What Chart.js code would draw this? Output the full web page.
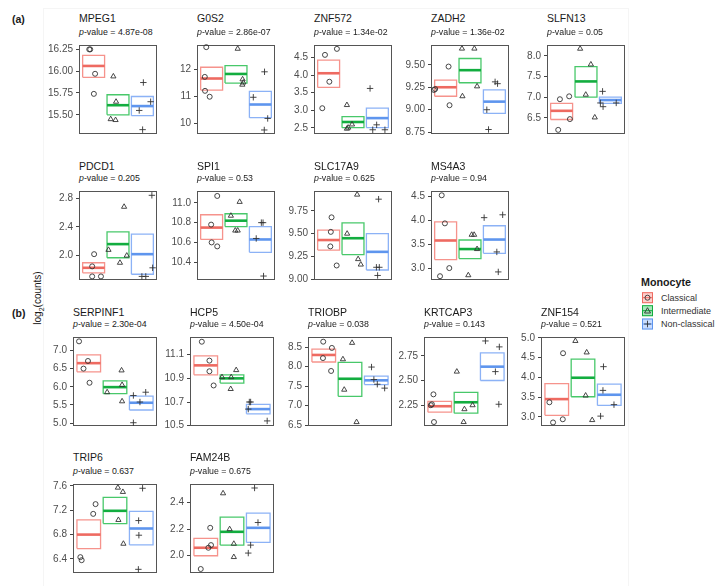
<!DOCTYPE html>
<html>
<head>
<meta charset="utf-8">
<script src="https://cdn.jsdelivr.net/npm/chart.js@4.4.1/dist/chart.umd.min.js"></script>
<style>
  body { margin: 0; background: #fff; width: 723px; height: 586px; position: relative; overflow: hidden;
         font-family: "Liberation Sans", Arial, Helvetica, sans-serif; color: #1a1a1a; }
  .abs { position: absolute; white-space: nowrap; }
  .gene { font-size: 10.5px; line-height: 12px; }
  .pval { font-size: 8.8px; line-height: 10px; }
  .tag { font-size: 10.5px; font-weight: bold; line-height: 12px; }
  .leg { font-size: 9px; line-height: 10px; color: #333; }
  .sep { position: absolute; background: #f5f5f5; }
</style>
</head>
<body>
<div class="sep" style="left:43px;top:8px;width:1px;height:578px"></div>
<div class="sep" style="left:43px;top:8px;width:585px;height:1px"></div>
<div class="sep" style="left:628px;top:8px;width:1px;height:578px"></div>

<div class="abs tag" style="left:12px;top:13px">(a)</div>
<div class="abs tag" style="left:12px;top:307px">(b)</div>
<div class="abs" style="left:38px;top:298px;font-size:10px;transform:translate(-50%,-50%) rotate(-90deg)">log<sub style="font-size:7px">2</sub>(counts)</div>

<div class="abs" style="left:641px;top:276px;font-size:10.7px;font-weight:bold;line-height:12px">Monocyte</div>
<canvas id="legendKeys" class="abs" width="16" height="44" style="left:640px;top:290px"></canvas>
<div class="abs leg" style="left:661px;top:293px">Classical</div>
<div class="abs leg" style="left:661px;top:306px">Intermediate</div>
<div class="abs leg" style="left:661px;top:319px">Non-classical</div>

<script>
// ---------- data ----------
const groups = ['Classical', 'Intermediate', 'Non-classical'];

const genes = ['MPEG1', 'G0S2', 'ZNF572', 'ZADH2', 'SLFN13',
               'PDCD1', 'SPI1', 'SLC17A9', 'MS4A3',
               'SERPINF1', 'HCP5', 'TRIOBP', 'KRTCAP3', 'ZNF154',
               'TRIP6', 'FAM24B'];

const pValues = ['4.87e-08', '2.86e-07', '1.34e-02', '1.36e-02', '0.05',
                 '0.205', '0.53', '0.625', '0.94',
                 '2.30e-04', '4.50e-04', '0.038', '0.143', '0.521',
                 '0.637', '0.675'];

const yTickLabels = [
  ['15.50', '15.75', '16.00', '16.25'], ['10', '11', '12'], ['2.5', '3.0', '3.5', '4.0', '4.5'],
  ['8.75', '9.00', '9.25', '9.50'], ['6.5', '7.0', '7.5', '8.0'],
  ['2.0', '2.4', '2.8'], ['10.4', '10.6', '10.8', '11.0'], ['9.00', '9.25', '9.50', '9.75'],
  ['3.0', '3.5', '4.0', '4.5'],
  ['5.0', '5.5', '6.0', '6.5', '7.0'], ['10.5', '10.7', '10.9', '11.1'], ['6.5', '7.0', '7.5', '8.0', '8.5'],
  ['2.25', '2.50', '2.75'], ['3.0', '3.5', '4.0', '4.5', '5.0'],
  ['6.4', '6.8', '7.2', '7.6'], ['2.0', '2.2', '2.4']
];

const yRanges = [
  [15.28, 16.30], [9.60, 12.92], [2.33, 4.85], [8.73, 9.72], [6.11, 8.26],
  [1.66, 2.90], [10.22, 11.12], [8.99, 9.97], [2.75, 4.62],
  [4.92, 7.37], [10.497, 11.25], [6.48, 8.76], [2.04, 2.94], [2.77, 5.02],
  [6.17, 7.63], [1.87, 2.54]
];

// crossbars per gene: [Classical, Intermediate, Non-classical]
const crossLow = [
  [15.93, 15.50, 15.49], [11.24, 11.50, 10.21], [3.65, 2.51, 2.51], [9.15, 9.30, 8.96], [6.46, 7.00, 6.85],
  [1.76, 1.97, 1.74], [10.63, 10.76, 10.50], [9.32, 9.27, 9.10], [3.18, 3.20, 3.31],
  [6.41, 5.81, 5.36], [10.93, 10.86, 10.60], [8.12, 7.24, 7.54], [2.18, 2.17, 2.50], [3.04, 3.51, 3.29],
  [6.57, 6.98, 6.63], [2.00, 2.08, 2.10]
];
const crossMean = [
  [16.06, 15.61, 15.60], [11.67, 11.84, 10.70], [4.05, 2.67, 2.78], [9.25, 9.44, 9.09], [6.67, 7.38, 6.93],
  [1.83, 2.16, 2.02], [10.75, 10.82, 10.63], [9.43, 9.45, 9.30], [3.58, 3.40, 3.60],
  [6.65, 5.99, 5.56], [11.01, 10.90, 10.64], [8.30, 7.69, 7.65], [2.24, 2.28, 2.64], [3.45, 3.99, 3.56],
  [6.80, 7.19, 6.90], [2.06, 2.18, 2.21]
];
const crossHigh = [
  [16.18, 15.73, 15.71], [12.09, 12.15, 11.19], [4.42, 2.82, 3.06], [9.33, 9.57, 9.22], [6.85, 7.74, 7.00],
  [1.90, 2.33, 2.30], [10.88, 10.89, 10.76], [9.54, 9.62, 9.50], [3.97, 3.59, 3.89],
  [6.88, 6.16, 5.74], [11.09, 10.93, 10.68], [8.45, 8.11, 7.76], [2.29, 2.38, 2.78], [3.84, 4.46, 3.83],
  [7.04, 7.41, 7.18], [2.13, 2.29, 2.32]
];

// samples (x = group position incl. jitter as seen, y = log2 counts)
const classicalX = [
  [0.82, 0.86, 1.06, 1.01], [0.78, 0.72, 0.73, 0.92], [0.85, 1.34, 1.03, 0.74], [0.52, 0.57, 1.12, 1.16], [0.93, 1.31, 1.34, 0.86],
  [1.02, 0.94, 0.94, 1.30], [1.23, 0.98, 1.00, 1.23], [1.12, 1.09, 1.07, 1.33], [0.84, 0.97, 1.15, 0.77],
  [0.63, 0.97, 0.80, 1.03], [0.85, 1.14, 1.14, 1.30], [0.98, 1.31, 0.97, 1.28], [0.76, 0.70, 0.66, 0.78], [1.24, 0.72, 1.23, 0.86],
  [1.26, 1.17, 0.68, 0.73], [1.17, 1.20, 1.10, 0.81]
];
const classicalY = [
  [16.25, 16.25, 15.97, 15.74], [12.84, 11.73, 11.21, 10.99], [4.57, 4.74, 3.81, 3.06], [9.22, 9.23, 9.48, 9.05], [6.95, 7.02, 6.47, 6.21],
  [2.02, 1.85, 1.71, 1.71], [11.07, 10.78, 10.60, 10.56], [9.68, 9.52, 9.36, 9.15], [4.53, 3.94, 3.00, 2.83],
  [7.25, 6.71, 6.50, 6.11], [11.21, 11.05, 10.96, 10.84], [8.64, 8.48, 8.22, 7.89], [2.36, 2.26, 2.25, 2.08], [4.61, 3.37, 2.94, 2.86],
  [7.30, 7.14, 6.43, 6.38], [2.21, 2.08, 2.06, 1.90]
];
const intermediateX = [
  [1.81, 1.92, 1.70, 1.90], [2.07, 2.27, 2.30, 2.26], [1.75, 1.96, 1.75, 1.80], [1.67, 2.18, 1.69, 2.29], [1.76, 2.20, 1.99, 2.36],
  [2.25, 1.61, 2.36, 2.08], [2.15, 1.79, 1.97, 2.07], [2.17, 1.76, 2.21, 2.32], [2.07, 2.17, 2.29, 1.93],
  [2.25, 2.27, 1.70, 2.27], [2.16, 1.97, 1.62, 1.95], [2.08, 1.73, 1.78, 2.25], [1.65, 1.94, 2.25, 1.91], [1.71, 2.14, 2.10, 2.35],
  [2.11, 2.30, 2.13, 2.32], [1.66, 1.91, 2.07, 2.07]
];
const intermediateY = [
  [15.94, 15.65, 15.45, 15.44], [12.78, 11.64, 11.52, 11.44], [3.15, 2.60, 2.48, 2.51], [9.68, 9.68, 9.15, 9.26], [8.17, 7.79, 7.06, 6.51],
  [2.68, 2.08, 2.00, 1.90], [11.01, 10.87, 10.72, 10.72], [9.93, 9.50, 9.22, 9.16], [3.70, 3.70, 3.40, 2.85],
  [6.45, 6.05, 5.85, 5.60], [10.97, 10.91, 10.91, 10.81], [8.61, 8.19, 7.41, 6.58], [2.59, 2.21, 2.25, 2.08], [4.92, 4.63, 3.54, 2.92],
  [7.57, 7.50, 7.04, 6.65], [2.47, 2.20, 2.09, 1.99]
];
const nonClassicalX = [
  [3.04, 3.34, 2.87, 3.01], [3.17, 2.71, 3.30, 3.16], [2.70, 2.97, 2.81, 3.31], [3.03, 3.13, 2.69, 2.76], [2.68, 2.59, 2.70, 3.24],
  [3.39, 3.42, 2.98, 3.14], [3.04, 3.11, 2.83, 3.13], [3.05, 2.96, 3.08, 3.01], [2.58, 3.34, 3.10, 3.16],
  [2.70, 3.17, 2.95, 2.70], [2.66, 2.71, 2.62, 3.34], [2.82, 2.91, 3.04, 3.32], [2.74, 3.27, 3.12, 3.25], [2.78, 2.76, 3.18, 2.67],
  [3.05, 2.90, 2.91, 2.89], [2.86, 2.99, 2.71, 2.62]
];
const nonClassicalY = [
  [15.87, 15.65, 15.55, 15.33], [11.92, 10.97, 10.18, 9.75], [3.62, 2.59, 2.45, 2.45], [9.31, 9.29, 9.00, 8.78], [7.14, 6.86, 6.77, 6.86],
  [2.84, 1.83, 1.71, 1.71], [10.80, 10.80, 10.64, 10.26], [9.88, 9.13, 9.13, 9.04], [4.06, 4.12, 3.34, 2.92],
  [5.76, 5.85, 5.58, 5.01], [10.70, 10.70, 10.64, 10.54], [7.99, 7.67, 7.55, 7.45], [2.90, 2.84, 2.59, 2.26], [4.27, 3.67, 3.31, 3.02],
  [7.56, 7.03, 6.79, 6.23], [2.51, 2.25, 2.08, 2.02]
];

// ---------- layout & style ----------
const panelRow = [0, 0, 0, 0, 0, 1, 1, 1, 1, 2, 2, 2, 2, 2, 3, 3];
const panelCol = [0, 1, 2, 3, 4, 0, 1, 2, 3, 0, 1, 2, 3, 4, 0, 1];
const lefts_a = [79, 197, 314, 431, 547];
const lefts_b = [73, 190, 308, 424, 541];
const rowBoxTop = [41, 187, 333, 480];
const rowTitleY = [18, 166, 312, 457];
const rowPvalY = [32, 178, 324, 471];
const BOX_H = 97;
const AXIS_W = 40;
const PAD = 5;

const boxColors = ['rgba(244,128,120,0.85)', 'rgba(40,190,80,0.85)', 'rgba(120,165,245,0.85)'];
const meanColors = ['#EE6A61', '#12AD3F', '#5E95EE'];
const shapes = ['circle', 'triangle', 'cross'];
const radii = [2.5, 3, 3.2];
const HALF = 0.45;

const frame = {
  id: 'frame',
  beforeDatasetsDraw(chart) {
    const a = chart.chartArea, c = chart.ctx;
    c.save();
    c.strokeStyle = '#555';
    c.lineWidth = 1;
    c.strokeRect(Math.round(a.left) + 0.5, Math.round(a.top) + 0.5,
                 Math.round(a.right - a.left) - 1, Math.round(a.bottom - a.top) - 1);
    c.restore();
  }
};

function addText(cls, html, left, centerY, h) {
  const d = document.createElement('div');
  d.className = 'abs ' + cls;
  d.style.left = left + 'px';
  d.style.top = (centerY - h / 2) + 'px';
  d.innerHTML = html;
  document.body.appendChild(d);
}

function makePanel(i) {
  const row = panelRow[i], col = panelCol[i];
  const left = row < 2 ? lefts_a[col] : lefts_b[col];
  const w = row < 2 ? 78 : 84;
  const top = rowBoxTop[row];

  addText('gene', genes[i], left, rowTitleY[row], 12);
  addText('pval', '<i>p</i>-value = ' + pValues[i], left, rowPvalY[row], 10);

  const cv = document.createElement('canvas');
  const W = AXIS_W + w + PAD, H = BOX_H + 2 * PAD;
  cv.width = W; cv.height = H;
  cv.className = 'abs';
  cv.style.left = (left - AXIS_W) + 'px';
  cv.style.top = (top - PAD) + 'px';
  cv.style.width = W + 'px'; cv.style.height = H + 'px';
  document.body.appendChild(cv);

  const xs = [classicalX[i], intermediateX[i], nonClassicalX[i]];
  const ys = [classicalY[i], intermediateY[i], nonClassicalY[i]];
  const datasets = [];

  for (let g = 0; g < 3; g++) {
    datasets.push({
      data: xs[g].map((x, k) => ({ x: x, y: ys[g][k] })),
      pointStyle: shapes[g], pointRadius: radii[g], pointHoverRadius: radii[g],
      pointBorderColor: '#333', pointBackgroundColor: 'rgba(0,0,0,0)', pointBorderWidth: 0.9,
      showLine: false, clip: false, order: 0
    });
  }
  for (let g = 0; g < 3; g++) {
    const c = g + 1;
    datasets.push({
      data: [{ x: c - HALF, y: crossMean[i][g] }, { x: c + HALF, y: crossMean[i][g] }],
      showLine: true, borderColor: meanColors[g], borderWidth: 2.6,
      pointRadius: 0, pointHoverRadius: 0, clip: false, order: 1
    });
    const lo = crossLow[i][g], hi = crossHigh[i][g];
    datasets.push({
      data: [{ x: c - HALF, y: lo }, { x: c + HALF, y: lo }, { x: c + HALF, y: hi },
             { x: c - HALF, y: hi }, { x: c - HALF, y: lo }],
      showLine: true, borderColor: boxColors[g], borderWidth: 1.3, borderJoinStyle: 'miter',
      pointRadius: 0, pointHoverRadius: 0, clip: false, order: 2
    });
  }

  const labels = yTickLabels[i];
  new Chart(cv, {
    type: 'scatter',
    data: { datasets: datasets },
    options: {
      responsive: false,
      animation: false,
      layout: { padding: { top: PAD, bottom: PAD, right: PAD, left: 0 } },
      plugins: { legend: { display: false }, tooltip: { enabled: false } },
      scales: {
        x: { type: 'linear', min: 0.4, max: 3.6, display: false },
        y: {
          type: 'linear', min: yRanges[i][0], max: yRanges[i][1],
          afterFit(s) { s.width = AXIS_W; },
          afterBuildTicks(s) { s.ticks = labels.map(l => ({ value: parseFloat(l) })); },
          ticks: {
            callback: (v, idx) => labels[idx],
            color: '#4d4d4d', padding: 3,
            font: { family: '"Liberation Sans", Arial, sans-serif', size: 10 }
          },
          grid: { drawOnChartArea: false, drawTicks: true, tickLength: 3, color: '#444', lineWidth: 1 },
          border: { display: false }
        }
      }
    },
    plugins: [frame]
  });
}

for (let i = 0; i < genes.length; i++) makePanel(i);

// legend keys
(function () {
  const c = document.getElementById('legendKeys').getContext('2d');
  const fills = ['rgba(248,118,109,0.35)', 'rgba(0,186,56,0.35)', 'rgba(97,156,255,0.35)'];
  const cy = [7.7, 20.7, 34];
  for (let g = 0; g < 3; g++) {
    const y0 = cy[g] - 5.5;
    c.fillStyle = fills[g];
    c.fillRect(2, y0, 11, 11);
    c.strokeStyle = meanColors[g];
    c.lineWidth = 1;
    c.strokeRect(2.5, y0 + 0.5, 10, 10);
    c.beginPath(); c.moveTo(2, cy[g]); c.lineTo(13, cy[g]); c.stroke();
    c.strokeStyle = '#333'; c.lineWidth = 0.9;
    c.beginPath();
    if (g === 0) { c.arc(7.5, cy[g], 2.5, 0, Math.PI * 2); }
    else if (g === 1) { c.moveTo(7.5, cy[g] - 3); c.lineTo(10.5, cy[g] + 2.3); c.lineTo(4.5, cy[g] + 2.3); c.closePath(); }
    else { c.moveTo(7.5, cy[g] - 3.3); c.lineTo(7.5, cy[g] + 3.3); c.moveTo(4.2, cy[g]); c.lineTo(10.8, cy[g]); }
    c.stroke();
  }
})();
</script>
</body>
</html>
